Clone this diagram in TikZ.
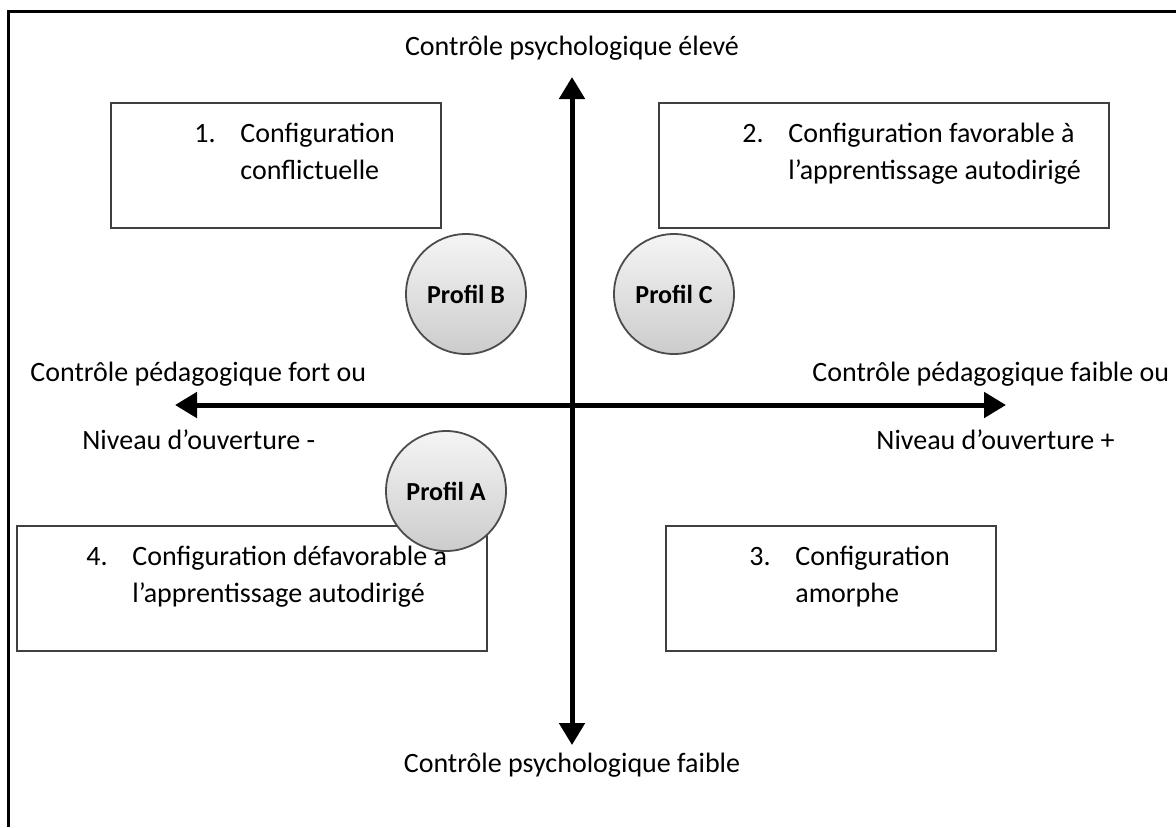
\documentclass[tikz,border=0pt]{standalone}
\usepackage{fontspec}
\setmainfont{Carlito}
\usetikzlibrary{arrows.meta}

\begin{document}
\begin{tikzpicture}[
    x=0.5pt, y=-0.5pt,
    txt/.style={font=\fontsize{14}{18.5}\selectfont, inner sep=0pt},
    cfgbox/.style={draw=black!75, line width=1pt, fill=white, anchor=north west,
                   minimum width=#1, minimum height=62.5pt, inner sep=0pt},
    profil/.style={circle, draw=black!70, line width=0.9pt, top color=gray!8,
                   bottom color=gray!40, minimum size=60pt, inner sep=0pt,
                   font=\fontsize{13}{15}\selectfont\bfseries},
    axis/.style={line width=2.5pt,
                 {Triangle[length=11pt,width=12.5pt]}-{Triangle[length=11pt,width=12.5pt]}}
  ]
  \useasboundingbox (0,0) rectangle (1176,827);
  % frame, cut at the right and bottom
  \draw[line width=1.5pt] (8,827) -- (8,11) -- (1176,11);

  % configuration boxes
  \node[cfgbox=165pt] (cfg1) at (110,102) {};
  \node[cfgbox=225pt] (cfg2) at (658,102) {};
  \node[cfgbox=165pt] (cfg3) at (665,525) {};
  \node[cfgbox=235pt] (cfg4) at (16,525) {};

  \node[txt, anchor=base west] (txt1) at ([shift={(84,40)}]cfg1.north west)
    {\begin{tabular}[t]{@{}p{23pt}@{}l@{}}1. & Configuration\\ & conflictuelle\end{tabular}};
  \node[txt, anchor=base west] (txt2) at ([shift={(84,40)}]cfg2.north west)
    {\begin{tabular}[t]{@{}p{23pt}@{}l@{}}2. & Configuration favorable à\\ & l’apprentissage autodirigé\end{tabular}};
  \node[txt, anchor=base west] (txt3) at ([shift={(84,40)}]cfg3.north west)
    {\begin{tabular}[t]{@{}p{23pt}@{}l@{}}3. & Configuration\\ & amorphe\end{tabular}};
  \node[txt, anchor=base west] (txt4) at ([shift={(70,40)}]cfg4.north west)
    {\begin{tabular}[t]{@{}p{23pt}@{}l@{}}4. & Configuration défavorable à\\ & l’apprentissage autodirigé\end{tabular}};

  % axes
  \coordinate (vtop) at (572,77);
  \coordinate (vbot) at (572,745);
  \coordinate (hlft) at (175,405);
  \coordinate (hrgt) at (1006,405);
  \draw[axis] (vbot) -- (vtop);
  \draw[axis] (hlft) -- (hrgt);

  \node[txt, anchor=base] (psyhi) at (572,55) {Contrôle psychologique élevé};
  \node[txt, anchor=base] (psylo) at (572,772) {Contrôle psychologique faible};
  \node[txt, anchor=base west] (pedfort) at (30,381) {Contrôle pédagogique fort ou};
  \node[txt, anchor=base west] (ouvmoins) at (82,449) {Niveau d’ouverture -};
  \node[txt, anchor=base west] (pedfaible) at (812,381) {Contrôle pédagogique faible ou};
  \node[txt, anchor=base west] (ouvplus) at (876,449) {Niveau d’ouverture +};

  % profiles
  \foreach \nm/\px/\py in {B/466/294, C/674/294, A/446/491}
    \node[profil] (prof\nm) at (\px,\py) {Profil \nm};
\end{tikzpicture}
\end{document}
